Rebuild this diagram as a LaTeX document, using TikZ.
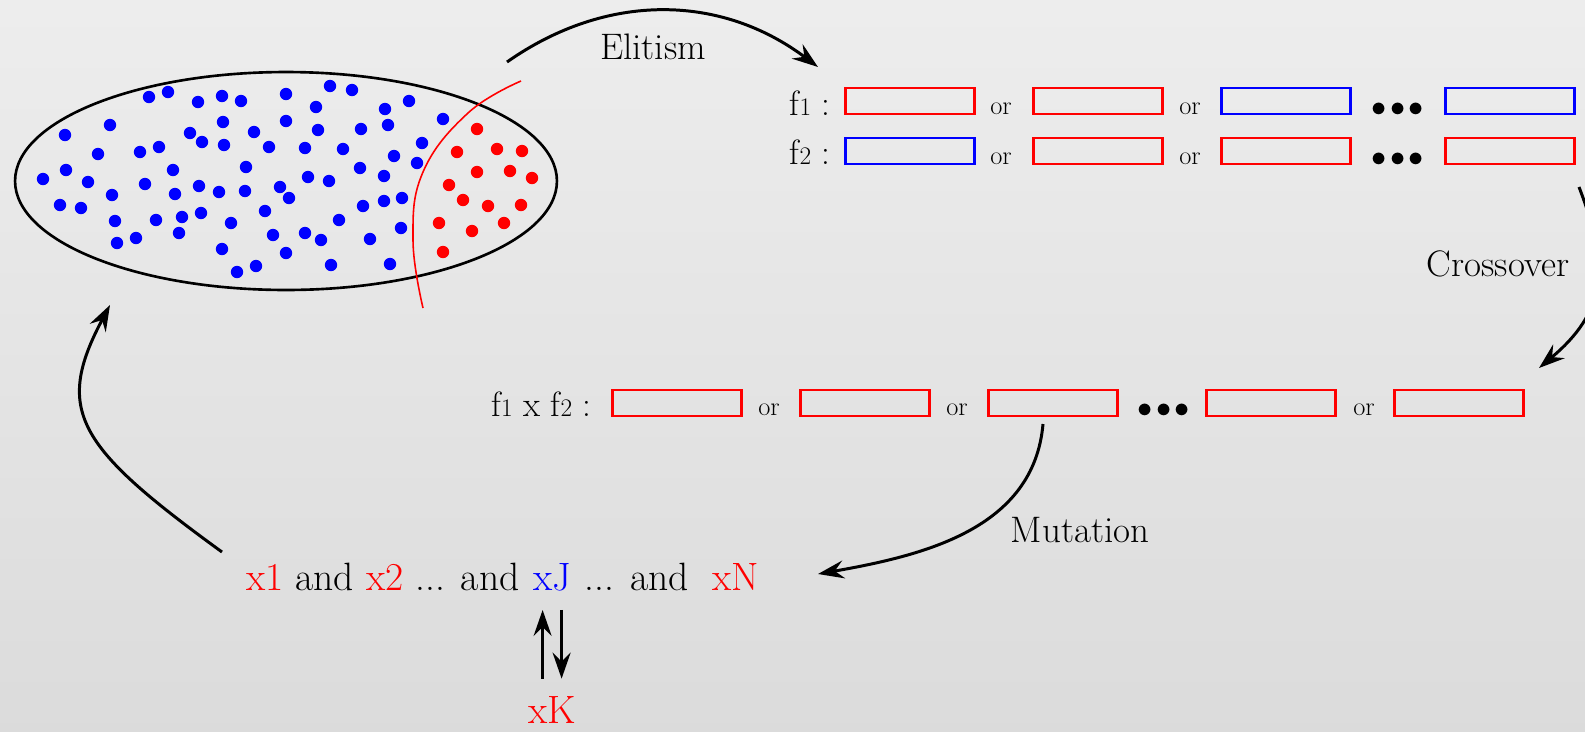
\documentclass[tikz,border=0pt]{standalone}
\usepackage{tikz}
\usetikzlibrary{positioning,arrows.meta,shapes.geometric}

\newcommand{\sm}[1]{\scalebox{0.72}{#1}}

\begin{document}
\begin{tikzpicture}[
  x=0.02cm, y=-0.02cm,
  >={Stealth[length=5.2mm, width=3.6mm, inset=1.8mm]},
  arr/.style={->, line width=1.7pt, draw=black},
  gene/.style={draw=red, line width=1.5pt, minimum width=2.58cm, minimum height=0.52cm, inner sep=0pt},
  bgene/.style={gene, draw=blue},
  flbl/.style={font=\fontsize{20}{24}\selectfont, inner sep=0pt, anchor=base east},
  ortxt/.style={font=\fontsize{15}{18}\selectfont, inner sep=0pt, anchor=base},
  more/.style={font=\fontsize{16}{20}\selectfont, inner sep=0pt, anchor=base},
  opname/.style={font=\fontsize{21}{25}\selectfont, inner sep=0pt, anchor=base},
  bigtxt/.style={font=\fontsize{22.5}{27}\selectfont, inner sep=0pt, anchor=base west},
]
\useasboundingbox (0,0) rectangle (1585,731);
\clip (0,0) rectangle (1585,731);
% ---- background ----
\shade[top color=black!7, bottom color=black!14] (0,0) rectangle (1585,731);

% ---- population ----
\node[ellipse, draw, line width=1.5pt, minimum width=10.84cm, minimum height=4.36cm, inner sep=0pt]
      (pop) at (286,181) {};
\foreach \x/\y in {149/97,168/92,198/102,222/96,241/101,286/94,110/125,65/135,223/122,286/121,
  190/133,202/142,224/145,254/132,269/147,98/154,140/152,159/147,246/167,173/170,43/179,66/170,
  88/182,145/184,175/194,199/186,219/192,245/191,280/187,289/198,112/195,60/205,81/208,265/211,
  115/221,156/220,182/217,201/213,231/223,179/233,273/235,286/253,117/243,136/238,222/249,
  237/272,256/266,330/86,352/90,316/107,318/130,385/109,409/101,443/119,361/129,388/125,
  305/148,343/149,394/156,422/143,417/163,360/168,384/176,308/177,329/181,363/206,384/201,
  402/198,339/220,305/233,321/240,370/239,401/228,331/265,390/264}
  \fill[blue] (\x,\y) circle (6.2);
\foreach \x/\y in {477/129,457/152,497/149,522/151,477/172,510/171,532/178,449/185,463/200,
  488/206,521/205,439/223,472/231,504/223,443/252}
  \fill[red] (\x,\y) circle (6.2);
\draw[red, line width=0.9pt] plot[smooth, tension=0.7]
      coordinates {(521,81) (468,113) (423,172) (413,240) (423,308)};

% ---- parents f1, f2 ----
\node[flbl] (f1lbl) at (831,115) {f\sm{1} :};
\node[flbl] (f2lbl) at (831,164) {f\sm{2} :};
\foreach \n/\x/\c in {1/910/gene,2/1098/gene,3/1286/bgene,4/1510/bgene}
  \node[\c] (a\n) at (\x,101) {};
\foreach \n/\x/\c in {1/910/bgene,2/1098/gene,3/1286/gene,4/1510/gene}
  \node[\c] (b\n) at (\x,151) {};
\foreach \x [count=\i] in {1001,1190}{
  \node[ortxt] (ora\i) at (\x,114) {or};
  \node[ortxt] (orb\i) at (\x,164) {or};
}
\node[more] (dota) at (1398,116) {$\bullet\mkern-2mu\bullet\mkern-2mu\bullet$};
\node[more] (dotb) at (1398,166) {$\bullet\mkern-2mu\bullet\mkern-2mu\bullet$};

% ---- child f1 x f2 ----
\node[flbl] (xlbl) at (592,416) {f\sm{1} x f\sm{2} :};
\foreach \x [count=\n] in {677,865,1053,1271,1459}
  \node[gene] (c\n) at (\x,403) {};
\foreach \x [count=\i] in {769,957,1364}
  \node[ortxt] (orc\i) at (\x,415) {or};
\node[more] (dotc) at (1164,417) {$\bullet\mkern-2mu\bullet\mkern-2mu\bullet$};

% ---- new generation ----
\node[bigtxt] (xl) at (246,590) {\textcolor{red}{x1} and \textcolor{red}{x2} ... and};
\node[bigtxt] (xJ) at (xl.base east) {\kern.33em\textcolor{blue}{xJ}\kern.33em};
\node[bigtxt] (xr) at (xJ.base east) {... and\kern.6em\textcolor{red}{xN}};
\node[bigtxt, anchor=base, text=red] (xK) at ([yshift=-2.68cm]xJ.base) {xK};

% ---- operators ----
\coordinate (eliS) at (507,62);
\coordinate (eliE) at (818,67);
\draw[arr] (eliS) to[bend left=36] (eliE);
\node[opname] (elit) at (653,59) {Elitism};

\coordinate (croS) at (1579,187);
\coordinate (croE) at (1539,368);
\draw[arr] (croS) to[out=-69, in=40, looseness=1.2] (croE);
\node[opname] (cross) at (1498,276) {Crossover};

\coordinate (mutS) at (1043,424);
\coordinate (mutE) at (818,574);
\draw[arr] (mutS) to[out=-95, in=10] (mutE);
\node[opname] (muta) at (1080,542) {Mutation};

\coordinate (backS) at (222,552);
\coordinate (backE) at (110,305);
\draw[arr] (backS) to[out=144, in=-118, out looseness=1.7, in looseness=1.13] (backE);

% ---- swap xJ <-> xK ----
\draw[arr] ([xshift=-0.19cm, yshift=0.36cm]xK.north) -- ([xshift=-0.19cm, yshift=-0.38cm]xK.north |- xJ.south);
\draw[arr] ([xshift=0.19cm, yshift=-0.38cm]xK.north |- xJ.south) -- ([xshift=0.19cm, yshift=0.36cm]xK.north);
\end{tikzpicture}
\end{document}
